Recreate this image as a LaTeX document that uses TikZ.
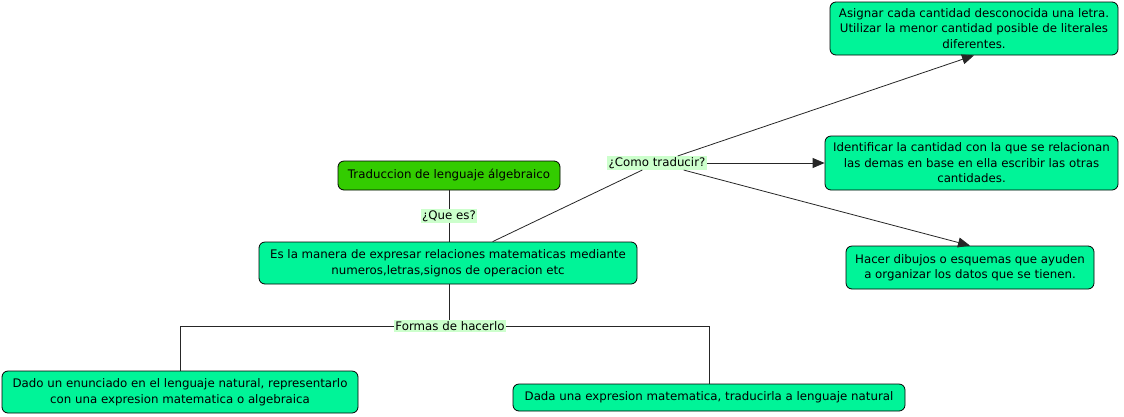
\documentclass[tikz,border=0pt]{standalone}
\usepackage{fontspec}
\setmainfont{DejaVu Sans}
\usetikzlibrary{arrows.meta}
\definecolor{boxgreen}{RGB}{0,244,152}
\definecolor{rootgreen}{RGB}{51,204,0}
\definecolor{lblgreen}{RGB}{204,255,204}
\begin{document}
\begin{tikzpicture}[x=1pt,y=-1pt,
  box/.style={draw=black, rounded corners=6pt, fill=boxgreen, align=center, inner sep=0pt,
    font=\fontsize{11.8}{15.5}\selectfont, line width=0.8pt},
  lbl/.style={fill=lblgreen, inner sep=1.2pt, font=\fontsize{11.8}{13}\selectfont},
  conn/.style={draw=black!85, line width=0.8pt},
  arr/.style={conn, -{Triangle[length=12pt,width=10pt]}}]
\useasboundingbox (0,0) rectangle (1124,416);
\node[box, fill=rootgreen, minimum width=222pt, minimum height=29pt] (root) at (449,175.5) {Traduccion de lenguaje álgebraico};
\node[box, minimum width=378pt, minimum height=42pt] (def) at (448,263) {Es la manera de expresar relaciones matematicas mediante\\numeros,letras,signos de operacion etc};
\node[box, minimum width=288pt, minimum height=53pt] (asig) at (974,28.5) {Asignar cada cantidad desconocida una letra.\\Utilizar la menor cantidad posible de literales\\diferentes.};
\node[box, minimum width=293pt, minimum height=54pt] (ident) at (971.5,163) {Identificar la cantidad con la que se relacionan\\las demas en base en ella escribir las otras\\cantidades.};
\node[box, minimum width=248pt, minimum height=43pt] (hacer) at (970,267.5) {Hacer dibujos o esquemas que ayuden\\a organizar los datos que se tienen.};
\node[box, minimum width=356pt, minimum height=42pt] (dado) at (180,392) {Dado un enunciado en el lenguaje natural, representarlo\\con una expresion matematica o algebraica};
\node[box, minimum width=392pt, minimum height=27pt] (dada) at (709,397.5) {Dada una expresion matematica, traducirla a lenguaje natural};

\node[lbl] (quees) at (449,216) {¿Que es?};
\node[lbl] (como) at (657,163) {¿Como traducir?};
\node[lbl] (formas) at (450,326) {Formas de hacerlo};

\draw[conn] (root) -- (quees);
\draw[conn] (quees) -- (root.south |- def.north);
\draw[conn] (def) -- (como);
\draw[arr] (como) -- (asig.south);
\draw[arr] (como) -- (ident);
\draw[arr] (como) -- (hacer.north);
\draw[conn] (root.south |- def.south) -- (root.south |- formas.north);
\draw[conn] (formas.west) -| (dado.north);
\draw[conn] (formas.east) -| (dada.north);
\end{tikzpicture}
\end{document}
